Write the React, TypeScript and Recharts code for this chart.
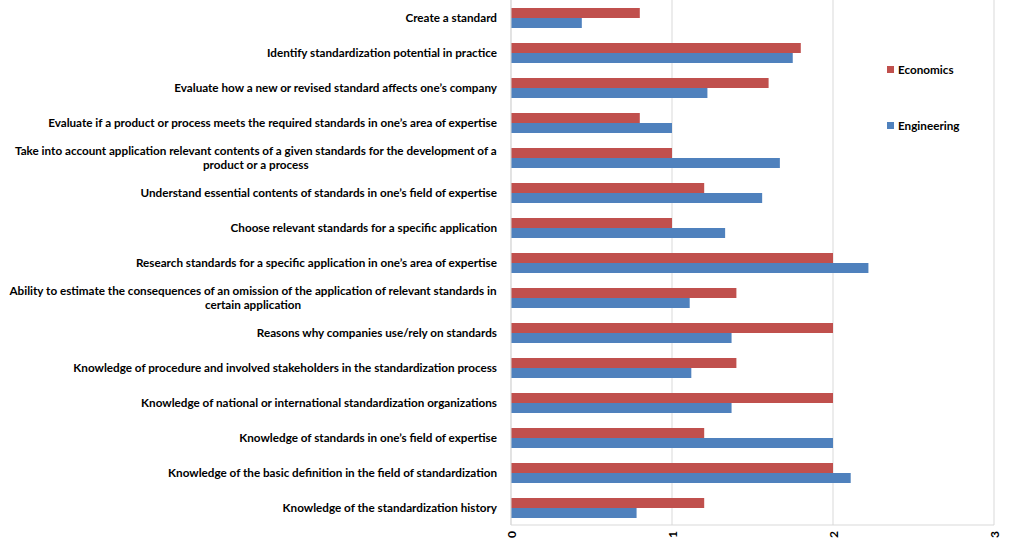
import { Bar, BarChart, CartesianGrid, Legend, XAxis, YAxis } from "recharts";

const skills = [
  "Create a standard",
  "Identify standardization potential in practice",
  "Evaluate how a new or revised standard affects one’s company",
  "Evaluate if a product or process meets the required standards in one’s area of expertise",
  "Take into account application relevant contents of a given standards for the development of a product or a process",
  "Understand essential contents of standards in one’s field of expertise",
  "Choose relevant standards for a specific application",
  "Research standards for a specific application in one’s area of expertise",
  "Ability to estimate the consequences of an omission of the application of relevant standards in certain application",
  "Reasons why companies use/rely on standards",
  "Knowledge of procedure and involved stakeholders in the standardization process",
  "Knowledge of national or international standardization organizations",
  "Knowledge of standards in one’s field of expertise",
  "Knowledge of the basic definition in the field of standardization",
  "Knowledge of the standardization history",
];
const economics = [0.8, 1.8, 1.6, 0.8, 1.0, 1.2, 1.0, 2.0, 1.4, 2.0, 1.4, 2.0, 1.2, 2.0, 1.2];
const engineering = [0.44, 1.75, 1.22, 1.0, 1.67, 1.56, 1.33, 2.22, 1.11, 1.37, 1.12, 1.37, 2.0, 2.11, 0.78];
const xTicks = [0, 1, 2, 3];

const data = skills.map((skill, i) => ({
  skill,
  Economics: economics[i],
  Engineering: engineering[i],
}));

const FONT = "Lato, 'Open Sans', sans-serif";
const LABEL_SIZE = 11.7;
const RED = "#C0504D";
const BLUE = "#4F81BD";

const ctx = document.createElement("canvas").getContext("2d");

function measure(text: string) {
  if (!ctx) return text.length * 6;
  ctx.font = `bold ${LABEL_SIZE}px Lato`;
  return ctx.measureText(text).width;
}

function wrap(text: string, maxWidth: number) {
  const words = text.split(" ");
  const lines: string[] = [];
  let line = "";
  for (const w of words) {
    const next = line ? line + " " + w : w;
    if (line && measure(next) > maxWidth) {
      lines.push(line);
      line = w;
    } else {
      line = next;
    }
  }
  if (line) lines.push(line);
  return lines;
}

function SkillTick({ x, y, payload }: any) {
  const lines = wrap(payload.value, 496);
  const widest = Math.max(...lines.map(measure));
  const cx = x - widest / 2;
  // block is right-aligned, lines centred inside it
  const top = y - 1 - ((lines.length - 1) * 14) / 2;
  return (
    <g>
      {lines.map((l, i) => (
        <text
          key={i}
          x={lines.length > 1 ? cx : x}
          y={top + i * 14}
          textAnchor={lines.length > 1 ? "middle" : "end"}
          dominantBaseline="central"
          fontFamily={FONT}
          fontWeight="bold"
          fontSize={LABEL_SIZE}
          fill="#000"
        >
          {l}
        </text>
      ))}
    </g>
  );
}

function ValueTick({ x, y, payload }: any) {
  return (
    <text
      x={x}
      y={y}
      transform={`rotate(-90, ${x}, ${y})`}
      textAnchor="end"
      dominantBaseline="central"
      fontFamily={FONT}
      fontWeight="bold"
      fontSize={12}
      fill="#000"
    >
      {payload.value}
    </text>
  );
}

function LegendBox({ payload }: any) {
  return (
    <div style={{ fontFamily: FONT, fontWeight: "bold", fontSize: LABEL_SIZE }}>
      {(payload || []).map((p: any) => (
        <div key={p.value} style={{ display: "flex", alignItems: "center", height: 14, marginBottom: 42 }}>
          <span style={{ width: 7, height: 7, background: p.color, marginRight: 4, display: "inline-block" }} />
          {p.value}
        </div>
      ))}
    </div>
  );
}

export default function App() {
  return (
    <div style={{ position: "absolute", left: 0, top: 0, background: "#fff" }}>
      <BarChart
        width={1024}
        height={553}
        data={data}
        layout="vertical"
        margin={{ top: 0, right: 30, left: 0, bottom: 0 }}
        barSize={10}
        barGap={0}
      >
        <CartesianGrid horizontal={false} stroke="#d9d9d9" />
        <XAxis
          type="number"
          domain={[0, 3]}
          ticks={xTicks}
          height={28}
          tick={<ValueTick />}
          tickLine={false}
          tickSize={0}
          tickMargin={6}
          axisLine={{ stroke: "#d9d9d9" }}
          interval={0}
        />
        <YAxis
          type="category"
          dataKey="skill"
          width={511}
          tick={<SkillTick />}
          tickLine={false}
          tickSize={0}
          tickMargin={14}
          axisLine={{ stroke: "#d9d9d9" }}
          interval={0}
        />
        <Legend
          layout="horizontal"
          verticalAlign="middle"
          align="center"
          content={<LegendBox />}
          wrapperStyle={{ position: "absolute", left: 887, top: 62, width: 100 }}
        />
        <Bar dataKey="Economics" fill={RED} isAnimationActive={false} />
        <Bar dataKey="Engineering" fill={BLUE} isAnimationActive={false} />
      </BarChart>
    </div>
  );
}
